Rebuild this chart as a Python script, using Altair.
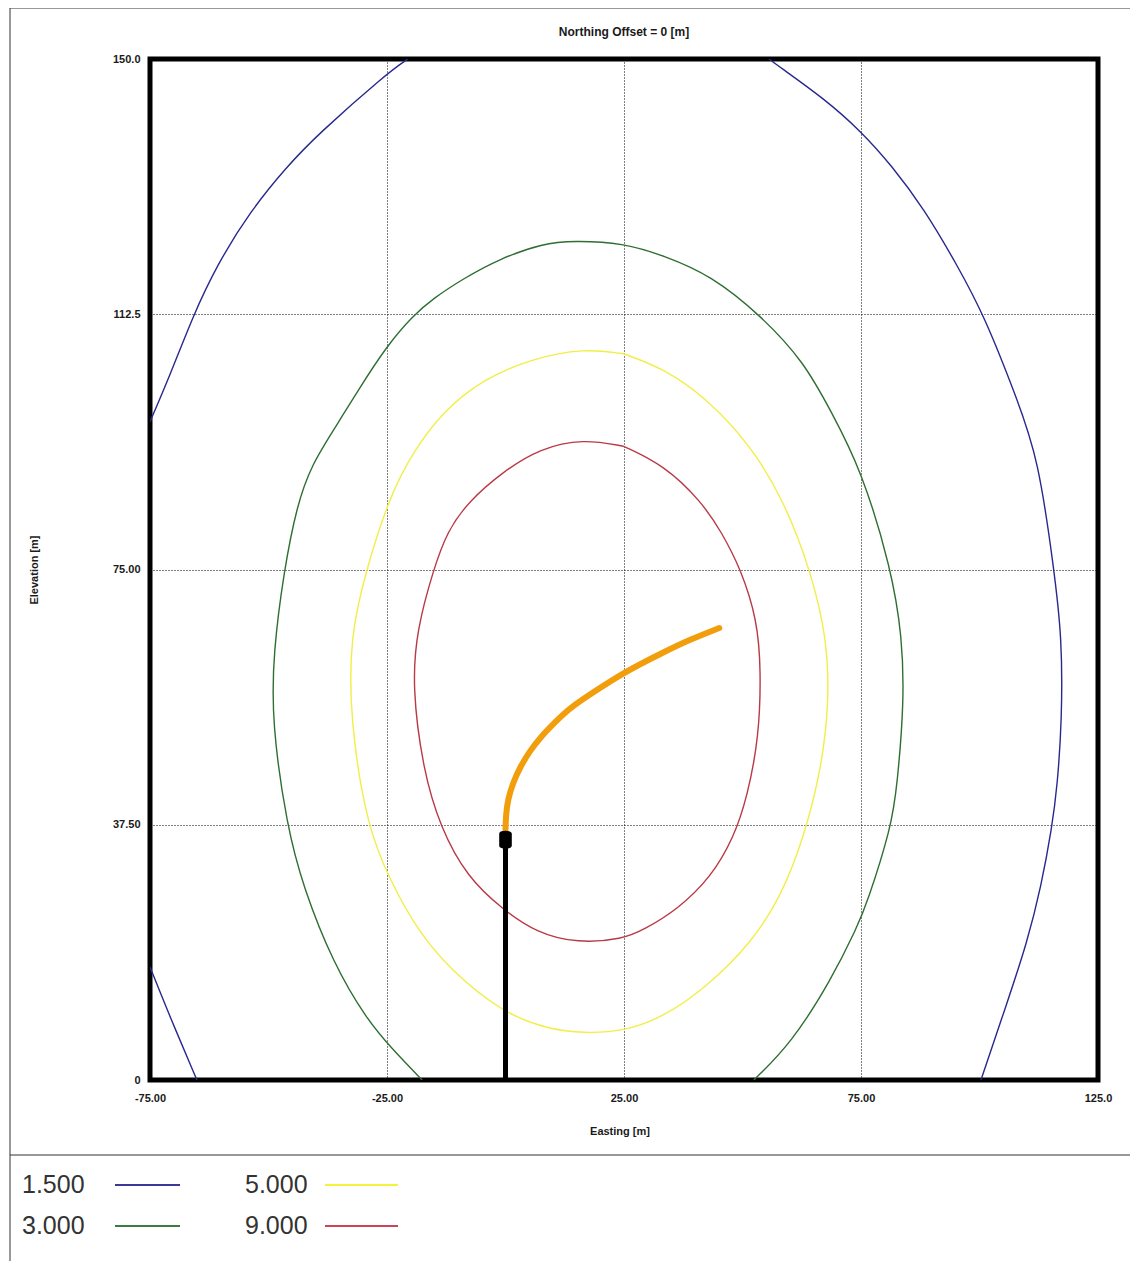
import altair as alt
import pandas as pd

# ---------------- data ----------------
levels = ["1.500", "3.000", "5.000", "9.000"]
level_colors = ["#28288f", "#2f6e32", "#f2ee48", "#b83a46"]
legend_colors = ["#3a3a96", "#3d7c40", "#f6f23c", "#cc4456"]
level_widths = [1.4, 1.4, 2.4, 1.4]

x_ticks = [-75, -25, 25, 75, 125]
y_ticks = [0, 37.5, 75, 112.5, 150]

# contour 1.500 (clipped by the frame into three pieces)
blue_ul_x = [-20.6, -25.0, -39.8, -46.1, -53.9, -60.9, -65.9, -70.8, -75.0]
blue_ul_y = [150.0, 147.9, 138.8, 134.2, 127.6, 119.7, 112.3, 103.5, 96.7]
blue_ll_x = [-75.0, -70.8, -65.1]
blue_ll_y = [16.6, 9.3, 0.0]
blue_r_x = [55.6, 57.3, 67.2, 75.0, 81.4, 88.3, 95.3, 101.0, 107.9, 112.4,
            115.7, 117.4, 117.4, 116.4, 115.3, 113.0, 110.0, 105.8, 100.3]
blue_r_y = [150.0, 149.1, 144.2, 139.4, 134.4, 128.0, 119.7, 112.3, 100.1, 91.3,
            75.1, 65.1, 52.9, 43.1, 37.2, 28.4, 20.1, 11.3, 0.0]

# contour 3.000
green_x = [-17.6, -23.7, -29.2, -36.4, -42.7, -46.1, -49.3, -49.0, -46.7, -44.0,
           -41.0, -35.7, -31.3, -25.0, -19.5, -15.3, -9.0, -1.1, 7.9, 14.3,
           24.8, 33.5, 43.4, 53.9, 63.0, 68.7, 75.0, 81.4, 83.7, 84.1,
           82.6, 81.4, 76.3, 74.2, 68.7, 60.3, 52.4]
green_y = [0.0, 4.4, 8.8, 17.2, 28.4, 37.2, 52.5, 62.8, 75.0, 84.4,
           90.3, 96.1, 101.1, 107.9, 112.3, 114.8, 117.7, 120.7, 122.9, 123.3,
           123.0, 121.1, 118.2, 112.3, 105.5, 98.2, 89.8, 75.1, 65.1, 55.4,
           43.1, 37.2, 26.0, 22.5, 14.7, 5.4, 0.0]

# contour 5.000
yellow_x = [24.9, 16.4, 5.8, -4.7, -13.2, -19.5, -24.4, -29.4, -32.8, -32.8,
            -29.2, -24.4, -18.7, -11.7, -0.5, 9.4, 16.4, 24.8, 33.5, 42.5,
            51.8, 58.1, 63.0, 66.6, 68.3, 67.8, 64.3, 58.8, 51.8, 42.5,
            33.5, 24.9]
yellow_y = [106.7, 107.5, 106.0, 103.0, 98.2, 92.3, 85.8, 75.0, 65.1, 52.9,
            37.2, 29.4, 22.1, 16.2, 9.8, 7.4, 6.9, 7.1, 9.3, 13.7,
            20.1, 26.9, 35.7, 45.6, 55.4, 65.1, 75.0, 85.0, 93.2, 100.1,
            104.5, 106.7]

# contour 9.000
red_x = [24.9, 16.4, 7.3, -0.5, -7.8, -12.3, -15.2, -18.7, -19.7, -17.4,
         -13.8, -8.1, -0.5, 6.7, 15.1, 24.8, 29.2, 36.2, 43.4, 48.2,
         51.0, 53.5, 53.9, 53.1, 49.7, 45.5, 41.3, 33.5, 24.9]
red_y = [93.1, 94.2, 92.8, 89.4, 85.0, 80.6, 75.0, 66.2, 57.8, 45.6,
         37.2, 29.8, 25.0, 21.6, 20.1, 20.7, 22.1, 25.0, 29.8, 35.7,
         41.6, 50.4, 60.3, 67.6, 75.0, 80.6, 85.0, 90.3, 93.1]

# plume centreline and stack
plume_x = [0.0, 0.1, 0.5, 1.6, 3.1, 5.2, 7.3, 10.5, 13.6, 19.3, 24.8, 33.2, 38.9, 45.1]
plume_y = [36.8, 39.0, 41.2, 43.7, 46.0, 48.4, 50.3, 52.6, 54.7, 57.3, 59.8, 62.8, 64.7, 66.4]
stack_x = [0.0]
stack_base = [0.0]
stack_top = [35.3]

title_text = "Northing Offset = 0 [m]"
x_title = "Easting [m]"
y_title = "Elevation [m]"

# ---------------- tables ----------------
rows = []
def add(level, piece, xs, ys):
    for i, (a, b) in enumerate(zip(xs, ys)):
        rows.append(dict(level=level, piece=piece, idx=i, x=a, y=b))

add("1.500", "b1", blue_ul_x, blue_ul_y)
add("1.500", "b2", blue_ll_x, blue_ll_y)
add("1.500", "b3", blue_r_x, blue_r_y)
add("3.000", "g", green_x, green_y)
add("5.000", "y", yellow_x, yellow_y)
add("9.000", "r", red_x, red_y)
contours = pd.DataFrame(rows)

plume = pd.DataFrame({"x": plume_x, "y": plume_y, "idx": list(range(len(plume_x)))})
stack = pd.DataFrame({"x": stack_x, "y": stack_base, "y2": stack_top})

FONT = "Liberation Sans"
W, H = 948, 1021

xs = alt.Scale(domain=[x_ticks[0], x_ticks[-1]], nice=False, zero=False)
ys = alt.Scale(domain=[y_ticks[0], y_ticks[-1]], nice=False, zero=False)
lab = "datum.value == 0 ? '0' : replace(format(datum.value, '.4r'), '\u2212', '-')"

common_axis = dict(grid=True, gridDash=[1, 2], gridColor="black", gridOpacity=1,
                   gridWidth=1, ticks=False, domain=False, labelFont=FONT,
                   labelFontSize=11, labelFontWeight="bold", labelColor="#1a1a1a",
                   title=None, labelExpr=lab, labelFlush=False)

lines = alt.Chart(contours).mark_line(clip=True, interpolate="basis").encode(
    x=alt.X("x:Q", scale=xs, axis=alt.Axis(values=x_ticks, labelPadding=12, **common_axis)),
    y=alt.Y("y:Q", scale=ys, axis=alt.Axis(values=y_ticks, labelPadding=10, **common_axis)),
    color=alt.Color("level:N", scale=alt.Scale(domain=levels, range=level_colors), legend=None),
    strokeWidth=alt.StrokeWidth("level:N", scale=alt.Scale(domain=levels, range=level_widths), legend=None),
    detail="piece:N",
    order="idx:Q",
)

stack_rule = alt.Chart(stack).mark_rule(color="black", strokeWidth=5).encode(
    x="x:Q", y="y:Q", y2="y2:Q")

stack_top_pt = alt.Chart(stack).mark_point(
    filled=True, color="black", opacity=1,
    shape="M-0.7,-0.65 Q-0.7,-1 0,-1 Q0.7,-1 0.7,-0.65 L0.7,0.65 Q0.7,1 0,1 Q-0.7,1 -0.7,0.65 Z",
    size=324).encode(x="x:Q", y="y2:Q")

plume_line = alt.Chart(plume).mark_line(color="#f29e0c", strokeWidth=6, strokeCap="round",
                                        interpolate="basis").encode(
    x="x:Q", y="y:Q", order="idx:Q")

# texts and frame (positions relative to the plot area's top-left corner)
def text(t, x, y, size, weight="bold", angle=0, align="center", color="#1a1a1a"):
    kw = dict(text=t, font=FONT, fontSize=size, fontWeight=weight, align=align,
              baseline="middle", color=color)
    if angle:
        kw["angle"] = angle
    return alt.Chart(pd.DataFrame({"a": [0]})).mark_text(**kw).encode(
        x=alt.value(x), y=alt.value(y))

def hline(x1, x2, y, color="#333333", w=1):
    return alt.Chart(pd.DataFrame({"a": [0]})).mark_rule(color=color, strokeWidth=w).encode(
        x=alt.value(x1), x2=alt.value(x2), y=alt.value(y))

def vline(x, y1, y2, color="#333333", w=1):
    return alt.Chart(pd.DataFrame({"a": [0]})).mark_rule(color=color, strokeWidth=w).encode(
        x=alt.value(x), y=alt.value(y1), y2=alt.value(y2))

decor = [
    text(title_text, W / 2, -27, 12),
    text(x_title, 470, 1073, 11),
    text(y_title, -115, 511, 11, angle=270),
    vline(-140, -51, 1215),
    vline(984, -51, 1215),
    hline(-140, 984, -51),
    hline(-140, 984, 1096),
]

leg_text_x = [-128, 95]
leg_line_x1 = [-35, 175]
leg_line_x2 = [30, 248]
leg_row_y = [1126, 1167]
for i, lv in enumerate(levels):
    c, r = i // 2, i % 2
    decor.append(text(lv, leg_text_x[c], leg_row_y[r], 25, weight="normal",
                      align="left", color="#333333"))
    decor.append(hline(leg_line_x1[c], leg_line_x2[c], leg_row_y[r],
                       color=legend_colors[i], w=2))

chart = alt.layer(lines, stack_rule, plume_line, stack_top_pt, *decor).properties(
    width=W, height=H,
    autosize=alt.AutoSizeParams(type="none"),
    padding={"left": 142, "top": 51, "right": 32, "bottom": 181},
    background="white",
).configure_view(stroke="black", strokeWidth=5)

chart.save("out.html", embed_options={"renderer": "svg", "actions": False})
